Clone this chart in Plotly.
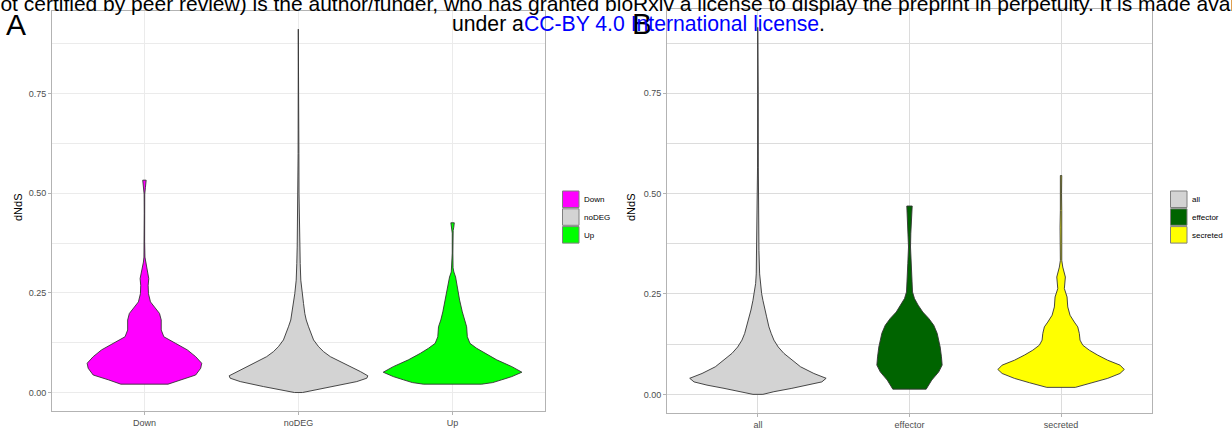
import plotly.graph_objects as go

W, H = 1232, 430
FONT = "Liberation Sans, Arial, sans-serif"

# ---------------- data ----------------
cats_a = ["Down", "noDEG", "Up"]
cats_b = ["all", "effector", "secreted"]
colors_a = ["#FF00FF", "#D3D3D3", "#00FF00"]
colors_b = ["#D3D3D3", "#006400", "#FFFF00"]

# violin profiles: dNdS values and relative density (violin half-width)
down_y = [0.021, 0.032, 0.044, 0.061, 0.0735, 0.09, 0.107, 0.1235, 0.14, 0.157, 0.182,
          0.1985, 0.211, 0.2275, 0.248, 0.269, 0.286, 0.307, 0.3275, 0.34, 0.38, 0.45,
          0.498, 0.515, 0.533]
down_d = [23.5, 36, 51, 56, 57, 51, 42.7, 31, 19.3, 16.7, 16.7,
          15, 11, 6, 4, 3.7, 4.3, 2.7, 1, 0.5, 0.2, 0.2,
          0.3, 1.0, 1.7]

nodeg_y = [0.0, 0.0068, 0.015, 0.0275, 0.036, 0.042, 0.0525, 0.065, 0.0775, 0.09, 0.1025,
           0.115, 0.132, 0.1485, 0.165, 0.182, 0.198, 0.2235, 0.248, 0.282, 0.3235, 0.365,
           0.407, 0.449, 0.5, 0.6, 0.75, 0.912]
nodeg_d = [4, 18, 35, 58, 68, 69, 61.7, 51.7, 41.7, 31.7, 25,
           20, 15, 12.3, 10, 7.7, 6.3, 5, 3.7, 2.3, 1.7, 1.3,
           1, 0.7, 0.5, 0.4, 0.3, 0.2]

up_y = [0.021, 0.025, 0.032, 0.04, 0.051, 0.065, 0.082, 0.0985, 0.111, 0.1235, 0.14,
        0.165, 0.182, 0.2025, 0.232, 0.265, 0.29, 0.3025, 0.313, 0.35, 0.40, 0.407,
        0.415, 0.426]
up_d = [29, 40, 49, 59, 69, 59, 44, 32, 24, 17.3, 14.7,
        14, 11.7, 9.7, 7, 4.7, 3, 1.3, 0.5, 0.3, 0.3, 0.6,
        1.2, 1.7]

all_y = [0.0, 0.0066, 0.015, 0.023, 0.031, 0.04, 0.052, 0.0686, 0.085, 0.102, 0.118,
         0.135, 0.1516, 0.168, 0.193, 0.21, 0.234, 0.251, 0.276, 0.30, 0.3585, 0.40,
         0.566, 0.75, 0.914]
all_d = [5, 16, 34, 51, 64, 68.3, 56, 42.7, 34.3, 26, 20.3,
         16, 13.3, 11, 8.7, 7, 5, 3.7, 2.3, 1.7, 1.0, 0.8,
         0.4, 0.3, 0.2]

effector_y = [0.013, 0.0355, 0.056, 0.0728, 0.0934, 0.118, 0.152, 0.172, 0.189, 0.205,
              0.222, 0.2386, 0.255, 0.284, 0.3255, 0.367, 0.40, 0.425, 0.45, 0.469]
effector_d = [16.7, 22.3, 29.3, 32.7, 32, 30.7, 27.7, 24.3, 19.3, 13.3,
              8.7, 5, 3, 2.3, 1.7, 1, 1.3, 1.7, 2.3, 2.7]

secreted_y = [0.0174, 0.029, 0.0398, 0.052, 0.062, 0.0728, 0.085, 0.0977, 0.11, 0.1225,
              0.135, 0.1516, 0.168, 0.18, 0.197, 0.2177, 0.2425, 0.2634, 0.2922, 0.317,
              0.3337, 0.375, 0.4165, 0.458, 0.4995, 0.545]
secreted_d = [14.3, 31.7, 46.7, 59, 63.3, 59, 46.7, 36.7, 28.3, 21.7,
              19, 18.3, 16.7, 13.3, 9, 6.7, 6, 3.3, 4.3, 1.7,
              0.7, 0.7, 1, 0.7, 0.5, 0.7]

ytick_vals = [0.0, 0.25, 0.50, 0.75]
ytick_text = ["0.00", "0.25", "0.50", "0.75"]
yminor_vals = [0.125, 0.375, 0.625, 0.875]

profiles_a = [(down_y, down_d), (nodeg_y, nodeg_d), (up_y, up_d)]
profiles_b = [(all_y, all_d), (effector_y, effector_d), (secreted_y, secreted_d)]


def px_x(p):
    return p / W


def px_y(p):
    return 1 - p / H


def violin_traces(profiles, cats, colors, xa, ya):
    maxd = max(max(d) for _, d in profiles)
    traces = []
    for i, ((ys, ds), cat, col) in enumerate(zip(profiles, cats, colors)):
        pos = i + 1
        half = [d / maxd * 0.45 for d in ds]
        xs = [pos + h for h in half] + [pos - h for h in reversed(half)] + [pos + half[0]]
        yy = list(ys) + list(reversed(ys)) + [ys[0]]
        traces.append(go.Scatter(
            x=xs, y=yy, mode="lines", fill="toself", fillcolor=col,
            line=dict(color="#333333", width=0.9), name=cat, showlegend=False,
            xaxis=xa, yaxis=ya, hoverinfo="skip"))
    return traces


def yrange(profiles):
    lo = min(min(y) for y, _ in profiles)
    hi = max(max(y) for y, _ in profiles)
    pad = 0.05 * (hi - lo)
    return [lo - pad, hi + pad]


fig = go.Figure()
for t in violin_traces(profiles_a, cats_a, colors_a, "x", "y"):
    fig.add_trace(t)
for t in violin_traces(profiles_b, cats_b, colors_b, "x2", "y2"):
    fig.add_trace(t)


def xaxis_cfg(cats, dom, grid):
    return dict(domain=dom, range=[0.4, 3.6], tickvals=[1, 2, 3], ticktext=cats,
                showgrid=True, gridcolor=grid, gridwidth=1, zeroline=False,
                showline=True, mirror=True, linecolor="#b3b3b3", linewidth=1,
                ticks="outside", ticklen=3, tickcolor="#b3b3b3",
                tickfont=dict(family=FONT, size=9, color="#4d4d4d"))


def yaxis_cfg(rng, dom, grid, anchor):
    return dict(domain=dom, range=rng, tickvals=ytick_vals, ticktext=ytick_text,
                showgrid=True, gridcolor=grid, gridwidth=1, zeroline=False,
                showline=True, mirror=True, linecolor="#b3b3b3", linewidth=1,
                ticks="outside", ticklen=3, tickcolor="#b3b3b3", anchor=anchor,
                minor=dict(tickvals=yminor_vals, showgrid=True, gridcolor=grid,
                           gridwidth=1, ticks=""),
                tickfont=dict(family=FONT, size=9, color="#4d4d4d"))


GRID_A = "#ebebeb"
GRID_B = "#dcdcdc"

fig.update_layout(
    width=W, height=H, margin=dict(l=0, r=0, t=0, b=0),
    paper_bgcolor="white", plot_bgcolor="white", showlegend=False,
    font=dict(family=FONT),
    xaxis=xaxis_cfg(cats_a, [px_x(52), px_x(545)], GRID_A) | dict(anchor="y"),
    yaxis=yaxis_cfg(yrange(profiles_a), [px_y(410.7), px_y(11)], GRID_A, "x"),
    xaxis2=xaxis_cfg(cats_b, [px_x(667), px_x(1152)], GRID_B) | dict(anchor="y2"),
    yaxis2=yaxis_cfg(yrange(profiles_b), [px_y(412.7), px_y(9)], GRID_B, "x2"),
)

ann = []
shapes = []

# manual ggplot-style legends
def add_legend(cats, colors, x0, y0):
    for i, (c, col) in enumerate(zip(cats, colors)):
        top = y0 + i * 17.8
        shapes.append(dict(type="rect", xref="paper", yref="paper",
                           x0=px_x(x0), x1=px_x(x0 + 16.5),
                           y0=px_y(top + 16.5), y1=px_y(top),
                           fillcolor=col, line=dict(color="#7f7f7f", width=1)))
        ann.append(dict(text=c, xref="paper", yref="paper", x=px_x(x0 + 19),
                        y=px_y(top + 8.5), xanchor="left", yanchor="middle",
                        showarrow=False, font=dict(family=FONT, size=8, color="black")))


add_legend(cats_a, colors_a, 562.5, 191)
add_legend(cats_b, colors_b, 1170.5, 191)

# axis titles
for xpx in (18, 631):
    ann.append(dict(text="dNdS", xref="paper", yref="paper", x=px_x(xpx), y=px_y(207),
                    textangle=-90, showarrow=False, xanchor="center", yanchor="middle",
                    font=dict(family=FONT, size=11, color="black")))

# panel letters
ann.append(dict(text="A", xref="paper", yref="paper", x=px_x(16), y=px_y(25),
                showarrow=False, xanchor="center", yanchor="middle",
                font=dict(family=FONT, size=30, color="black")))
ann.append(dict(text="B", xref="paper", yref="paper", x=px_x(642), y=px_y(23),
                showarrow=False, xanchor="center", yanchor="middle",
                font=dict(family=FONT, size=30, color="black")))

# bioRxiv header text
ann.append(dict(text="(which was not certified by peer review) is the author/funder, who has granted "
                     "bioRxiv a license to display the preprint in perpetuity. It is made available",
                xref="paper", yref="paper", x=px_x(-123), y=px_y(4),
                showarrow=False, xanchor="left", yanchor="middle",
                font=dict(family=FONT, size=21, color="black")))
ann.append(dict(text="under a<span style='color:#0000ff'>CC-BY 4.0 International license</span>.",
                xref="paper", yref="paper", x=px_x(638.5), y=px_y(23),
                showarrow=False, xanchor="center", yanchor="middle",
                font=dict(family=FONT, size=21.2, color="black")))

fig.update_layout(annotations=ann, shapes=shapes)
fig.write_html("out.html")
